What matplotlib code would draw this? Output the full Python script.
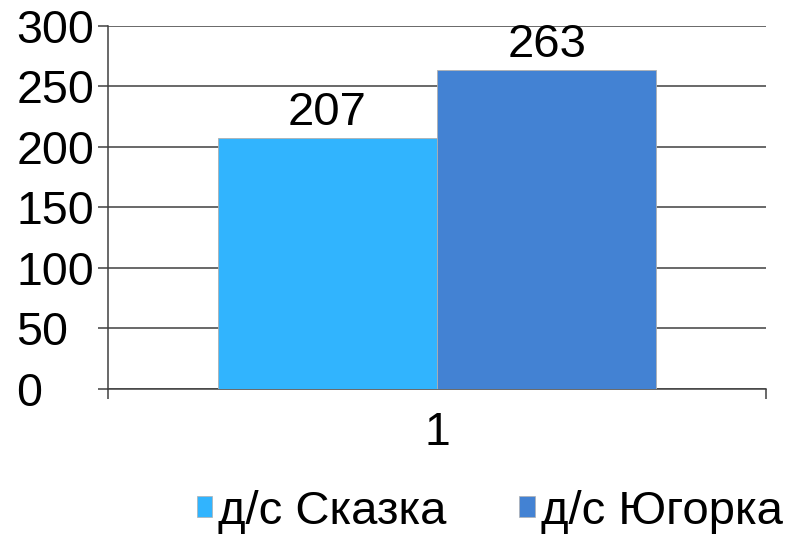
import matplotlib.pyplot as plt
from matplotlib.patches import Patch

# Chart data
categories = ["1"]
series_names = ["д/с Сказка", "д/с Югорка"]
series_values = [207, 263]
series_colors = ["#31B4FE", "#4382D3"]
y_ticks = [0, 50, 100, 150, 200, 250, 300]

plt.rcParams['font.family'] = ['Liberation Sans', 'DejaVu Sans']

fig = plt.figure(figsize=(7.94, 5.36), dpi=100)
ax = fig.add_axes([108 / 794, 1 - 389 / 536, 658 / 794, 363.5 / 536])

bar_w = 1 / 3
offsets = [-bar_w / 2, bar_w / 2]
for name, val, col, off in zip(series_names, series_values, series_colors, offsets):
    ax.bar(1 + off, val, width=bar_w, color=col, edgecolor="#b0b0b0",
           linewidth=0.6, zorder=3, label=name)
    ax.text(1 + off, val + 3, str(val), ha='center', va='bottom',
            fontsize=34, zorder=4)

ax.set_xlim(0.5, 1.5)
ax.set_ylim(0, 300)
ax.set_yticks(y_ticks)
ax.set_yticklabels([str(t) for t in y_ticks], fontsize=33.5)
# labels are left aligned at the figure edge, as in the original
ax.tick_params(axis='y', direction='out', length=7.5, width=1.1,
               color='#404040', pad=58.5)
for lbl in ax.get_yticklabels():
    lbl.set_horizontalalignment('left')

# category boundary ticks and centered label
ax.set_xticks([0.5, 1.5])
ax.set_xticklabels(["", ""])
ax.tick_params(axis='x', direction='out', length=7.5, width=1.1, color='#404040')
ax.set_xticks([1], minor=True)
ax.set_xticklabels(categories, minor=True, fontsize=33.5)
ax.tick_params(axis='x', which='minor', length=0, pad=16)

ax.yaxis.grid(True, color='#404040', linewidth=1.1, zorder=0)
ax.set_axisbelow(True)
for s in ['top', 'right']:
    ax.spines[s].set_visible(False)
ax.spines['left'].set_color('#404040')
ax.spines['left'].set_linewidth(1.1)
ax.spines['bottom'].set_color('#404040')
ax.spines['bottom'].set_linewidth(1.1)

handles = [Patch(facecolor=c, edgecolor='#b0b0b0', linewidth=0.5) for c in series_colors]
fig.legend(handles, series_names, loc='center', bbox_to_anchor=(0.6165, 0.045),
           ncol=2, frameon=False, fontsize=34, handlelength=0.33,
           handleheight=0.3, handletextpad=0.12, columnspacing=1.55,
           borderpad=0.1)

fig.savefig("out.png", dpi=100)
